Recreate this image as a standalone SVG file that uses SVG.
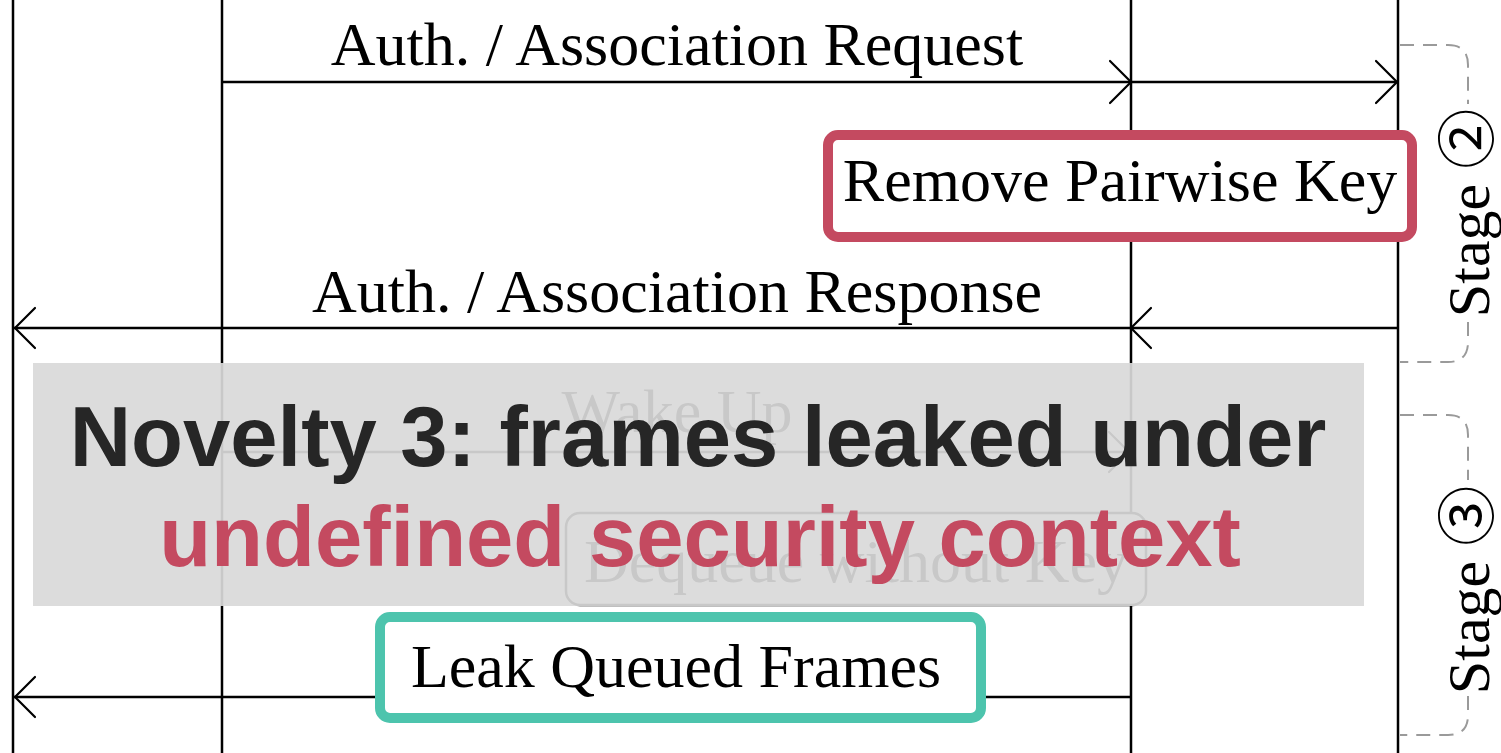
<svg xmlns="http://www.w3.org/2000/svg" width="1501" height="753" viewBox="0 0 1501 753">
<defs>
<style>
.life{stroke:#000;stroke-width:2.5;fill:none}
.msg{stroke:#000;stroke-width:2.5;fill:none}
.head{stroke:#000;stroke-width:2.2;fill:none;stroke-linecap:round}
.lbl{font-family:"Liberation Serif","Times New Roman",serif;font-size:62px;fill:#000;text-anchor:middle}
.stage{font-family:"Liberation Serif","DejaVu Serif","Noto Sans CJK JP",serif;font-size:60px;fill:#000;text-anchor:middle}
.brk{stroke:#9a9a9a;stroke-width:2;fill:none;stroke-dasharray:14 9}
.hl{font-family:"Liberation Sans",Arial,sans-serif;font-weight:bold;font-size:85px;text-anchor:middle}
</style>
</defs>
<rect width="1501" height="753" fill="#fff"/>
<g id="lifelines">
<line class="life" x1="13" y1="0" x2="13" y2="753"/>
<line class="life" x1="222" y1="0" x2="222" y2="753"/>
<line class="life" x1="1131" y1="0" x2="1131" y2="753"/>
<line class="life" x1="1398" y1="0" x2="1398" y2="753"/>
</g>
<g id="connectors">
<line class="msg" x1="222" y1="82" x2="1397" y2="82"/>
<polyline class="head" points="1110,61 1131,82 1110,103"/>
<polyline class="head" points="1376,61 1397,82 1376,103"/>
<line class="msg" x1="14" y1="328" x2="1397" y2="328"/>
<polyline class="head" points="1151,308 1131,328 1151,348"/>
<polyline class="head" points="35,308 15,328 35,348"/>
<line class="msg" x1="222" y1="452" x2="1129" y2="452"/>
<polyline class="head" points="1109,432 1129,452 1109,472"/>
<line class="msg" x1="14" y1="697" x2="1131" y2="697"/>
<polyline class="head" points="35,677 15,697 35,717"/>
</g>
<g id="msg-request"><text class="lbl" x="677" y="65">Auth. / Association Request</text></g>
<g id="msg-response"><text class="lbl" x="677" y="312">Auth. / Association Response</text></g>
<g id="msg-wakeup"><text class="lbl" x="677" y="432">Wake Up</text></g>
<g id="node-dequeue">
<rect x="566" y="513" width="580" height="92" rx="14" fill="#fff" stroke="#000" stroke-width="2.5"/>
<text class="lbl" x="856" y="582">Dequeue without Key</text>
</g>
<g id="node-remove-key">
<rect x="828" y="135" width="584" height="102" rx="10" fill="#fff" stroke="#c44a60" stroke-width="10"/>
<text class="lbl" x="1120" y="201">Remove Pairwise Key</text>
</g>
<g id="node-leak">
<rect x="380" y="617" width="601" height="101" rx="10" fill="#fff" stroke="#4dc4ad" stroke-width="10"/>
<text class="lbl" x="676" y="687">Leak Queued Frames</text>
</g>
<g id="stage2">
<path class="brk" d="M1400,45 H1448 Q1468,45 1468,65 V104"/>
<path class="brk" d="M1468,322 V342 Q1468,362 1448,362 H1400"/>
<text class="stage" transform="translate(1489,213) rotate(-90)">Stage ②</text>
</g>
<g id="stage3">
<path class="brk" d="M1400,415 H1448 Q1468,415 1468,435 V480"/>
<path class="brk" d="M1468,696 V715 Q1468,735 1448,735 H1400"/>
<text class="stage" transform="translate(1489,590) rotate(-90)">Stage ③</text>
</g>
<g id="overlay">
<rect x="33" y="363" width="1331" height="243" fill="#d9d9d9" fill-opacity="0.92"/>
<text class="hl" x="698" y="466" fill="#262626">Novelty 3: frames leaked under</text>
<text class="hl" x="700" y="566" fill="#c44a60">undefined security context</text>
</g>
</svg>
